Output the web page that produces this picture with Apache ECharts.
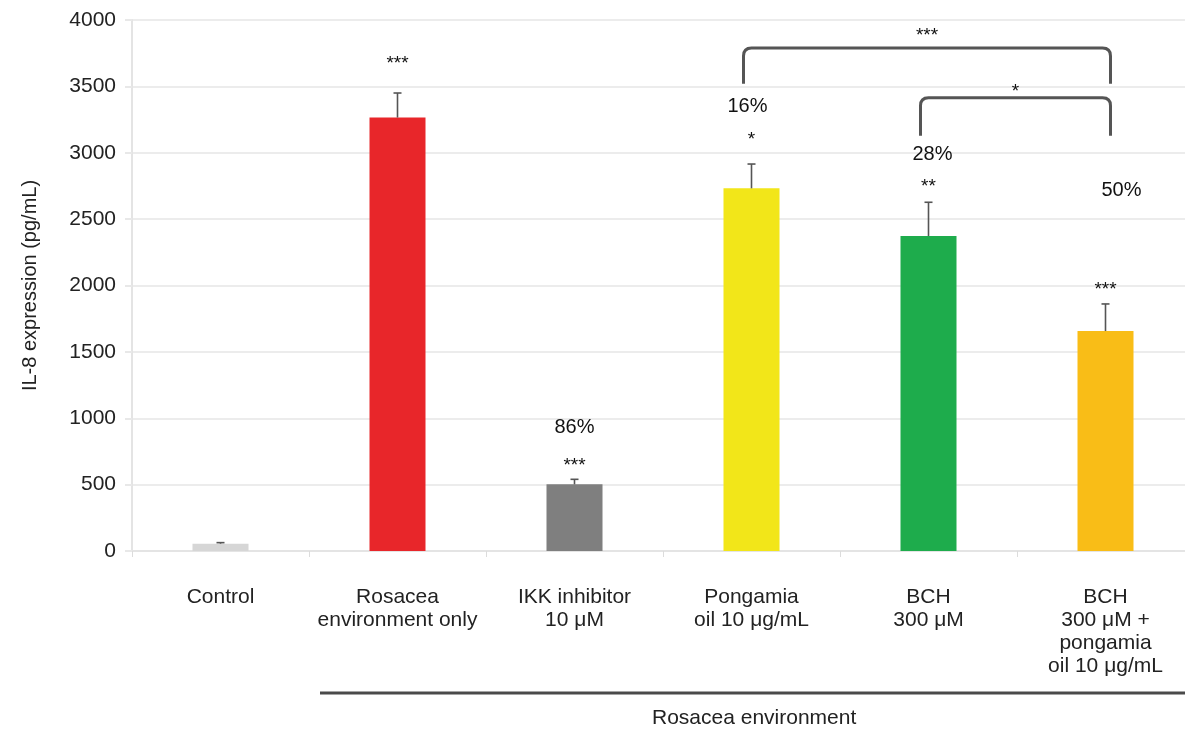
<!DOCTYPE html>
<html>
<head>
<meta charset="utf-8">
<script src="https://cdn.jsdelivr.net/npm/echarts@6/dist/echarts.min.js"></script>
<style>
html,body{margin:0;padding:0;background:#fff;overflow:hidden;}
#main{width:1196px;height:734px;}
</style>
</head>
<body>
<div id="main"></div>
<script>
const categories = ['Control', 'Rosacea\nenvironment only', 'IKK inhibitor\n10 \u03bcM', 'Pongamia\noil 10 \u03bcg/mL', 'BCH\n300 \u03bcM', 'BCH\n300 \u03bcM +\npongamia\noil 10 \u03bcg/mL'];
const values = [55, 3265, 502, 2732, 2373, 1657];
const errors = [8, 185, 38, 183, 254, 204];
const barColors = ['#d6d6d6', '#e8262a', '#7f7f7f', '#f2e619', '#1eac4c', '#f9bd17'];
const starLabels = ['', '***', '***', '*', '**', '***'];
const starValues = [null, 3700, 672, 3129, 2772, 1996];
const pctLabels = ['', '', '86%', '16%', '28%', '50%'];
const pctValues = [null, null, 927, 3347, 2990, 2712];
const pctOffsetX = [0, 0, 0, -4, 4, 16];
// [fromCategory, toCategory, topValue, bottomValue, labelValue, label]
const brackets = [
  [3, 5, 3790, 3520, 3910, '***'],
  [4, 5, 3415, 3129, 3490, '*']
];
const yTicks = [0, 500, 1000, 1500, 2000, 2500, 3000, 3500, 4000];

const FONT = '"Liberation Sans", Arial, sans-serif';
const chart = echarts.init(document.getElementById('main'), null, {renderer: 'canvas'});

const starData = [];
starValues.forEach((v, i) => { if (v !== null && starLabels[i]) starData.push([i, v, starLabels[i]]); });
const pctData = [];
pctValues.forEach((v, i) => { if (v !== null && pctLabels[i]) pctData.push([i, v, pctLabels[i], pctOffsetX[i]]); });
const errData = values.map((v, i) => [i, v, v + errors[i]]);

chart.setOption({
  animation: false,
  grid: {left: 132, top: 20, width: 1062, height: 531},
  xAxis: {
    type: 'category',
    data: categories,
    axisLine: {lineStyle: {color: '#e4e4e4', width: 2}},
    axisTick: {show: true, length: 6, lineStyle: {color: '#dcdcdc', width: 1}},
    axisLabel: {color: '#222', fontSize: 21, fontFamily: FONT, lineHeight: 23, margin: 35, interval: 0}
  },
  yAxis: {
    type: 'value',
    min: yTicks[0], max: yTicks[yTicks.length - 1], interval: 500,
    name: 'IL-8 expression (pg/mL)',
    nameLocation: 'middle', nameRotate: 90, nameGap: 92,
    nameTextStyle: {color: '#222', fontSize: 20, fontFamily: FONT},
    axisLine: {show: true, lineStyle: {color: '#e4e4e4', width: 2}},
    axisTick: {show: true, length: 7, lineStyle: {color: '#e8e8e8', width: 2}},
    splitLine: {lineStyle: {color: '#ececec', width: 2}},
    axisLabel: {color: '#222', fontSize: 21, fontFamily: FONT, margin: 16, formatter: v => String(v)}
  },
  series: [
    {
      type: 'bar',
      data: values.map((v, i) => ({value: v, itemStyle: {color: barColors[i]}})),
      barWidth: 56,
      z: 2
    },
    {
      type: 'custom',
      data: errData,
      z: 3,
      renderItem: function (params, api) {
        const x = api.coord([api.value(0), api.value(1)])[0];
        const y0 = api.coord([api.value(0), api.value(1)])[1];
        const y1 = api.coord([api.value(0), api.value(2)])[1];
        const style = {stroke: '#555', lineWidth: 1.6};
        return {type: 'group', children: [
          {type: 'line', shape: {x1: x, y1: y0, x2: x, y2: y1}, style: style},
          {type: 'line', shape: {x1: x - 4, y1: y1, x2: x + 4, y2: y1}, style: style}
        ]};
      }
    },
    {
      type: 'custom',
      data: brackets,
      z: 4,
      renderItem: function (params, api) {
        const a = api.coord([api.value(0), api.value(2)]);
        const b = api.coord([api.value(1), api.value(2)]);
        const bottom = api.coord([api.value(0), api.value(3)])[1];
        const ly = api.coord([api.value(0), api.value(4)])[1];
        const x1 = a[0] - 8, x2 = b[0] + 5, top = a[1], r = 8;
        const d = 'M' + x1 + ' ' + bottom + ' L' + x1 + ' ' + (top + r) +
          ' Q' + x1 + ' ' + top + ' ' + (x1 + r) + ' ' + top +
          ' L' + (x2 - r) + ' ' + top +
          ' Q' + x2 + ' ' + top + ' ' + x2 + ' ' + (top + r) +
          ' L' + x2 + ' ' + bottom;
        return {type: 'group', children: [
          {type: 'path', shape: {pathData: d}, style: {fill: null, stroke: '#555', lineWidth: 3}},
          {type: 'text', x: (x1 + x2) / 2, y: ly + 4, style: {text: brackets[params.dataIndex][5], fill: '#111', fontSize: 19, fontFamily: FONT, align: 'center', verticalAlign: 'middle'}}
        ]};
      }
    },
    {
      type: 'custom',
      data: starData,
      z: 5,
      renderItem: function (params, api) {
        const p = api.coord([api.value(0), api.value(1)]);
        return {type: 'text', x: p[0], y: p[1] + 4, style: {text: starData[params.dataIndex][2], fill: '#111', fontSize: 19, fontFamily: FONT, align: 'center', verticalAlign: 'middle'}};
      }
    },
    {
      type: 'custom',
      data: pctData,
      z: 5,
      renderItem: function (params, api) {
        const p = api.coord([api.value(0), api.value(1)]);
        const d = pctData[params.dataIndex];
        return {type: 'text', x: p[0] + d[3], y: p[1], style: {text: d[2], fill: '#111', fontSize: 20, fontFamily: FONT, align: 'center', verticalAlign: 'middle'}};
      }
    }
  ],
  graphic: [
    {type: 'line', shape: {x1: 320, y1: 693, x2: 1196, y2: 693}, style: {stroke: '#4a4a4a', lineWidth: 3}},
    {type: 'text', left: 652, top: 708, style: {text: 'Rosacea environment', fill: '#222', fontSize: 21, fontFamily: FONT}}
  ]
});
</script>
</body>
</html>
